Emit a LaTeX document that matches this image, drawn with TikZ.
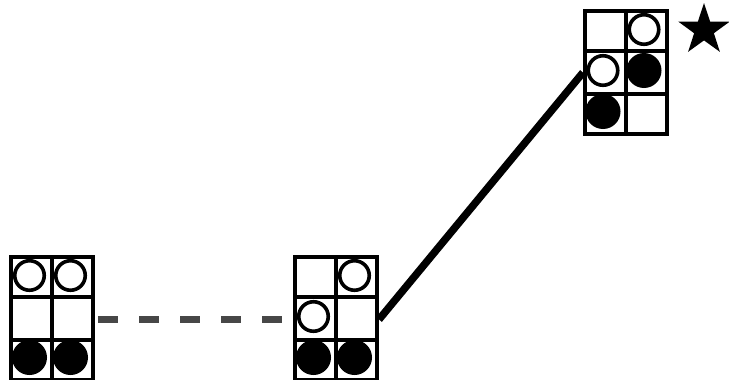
\documentclass[tikz,border=0pt]{standalone}
\usetikzlibrary{shapes.geometric,calc}
\begin{document}
\begin{tikzpicture}[x=1pt,y=-1pt,
  gridbox/.style={draw, line width=4pt, minimum width=82pt, minimum height=123pt, inner sep=0pt, anchor=north west},
  gridline/.style={line width=4pt},
  opencirc/.style={circle, draw, line width=3.6pt, minimum size=29.5pt, inner sep=0pt},
  fullcirc/.style={circle, fill=black, minimum size=35pt, inner sep=0pt},
  dashlink/.style={line width=7.5pt, draw=black!72, dash pattern=on 20pt off 21pt},
  solidlink/.style={line width=7.5pt, draw=black},
  starmark/.style={star, star points=5, star point ratio=2.6, fill=black, minimum size=54pt, inner sep=0pt}]
\useasboundingbox (0,0) rectangle (729,380);
% grids
\node[gridbox] (g1) at (9,255) {};
\node[gridbox] (g2) at (293,255) {};
\node[gridbox] (g3) at (583,9) {};
\foreach \g in {g1,g2,g3}{
  \draw[gridline] (\g.north) -- (\g.south);
  \draw[gridline] ($(\g.north west)!1/3!(\g.south west)$) -- ($(\g.north east)!1/3!(\g.south east)$);
  \draw[gridline] ($(\g.north west)!2/3!(\g.south west)$) -- ($(\g.north east)!2/3!(\g.south east)$);
}
% grid 1 pieces
\node[opencirc] (a11) at (29.5,275.5) {};
\node[opencirc] (a12) at (70.5,275.5) {};
\node[fullcirc] (a31) at (29.5,357.5) {};
\node[fullcirc] (a32) at (70.5,357.5) {};
% grid 2 pieces
\node[opencirc] (b12) at (354.5,275.5) {};
\node[opencirc] (b21) at (313.5,316.5) {};
\node[fullcirc] (b31) at (313.5,357.5) {};
\node[fullcirc] (b32) at (354.5,357.5) {};
% grid 3 pieces
\node[opencirc] (c12) at (644,29.5) {};
\node[opencirc] (c21) at (603,70.5) {};
\node[fullcirc] (c22) at (644,70.5) {};
\node[fullcirc] (c31) at (603,111.5) {};
% star
\node[starmark] (st) at (704,30) {};
% links
\coordinate (d1) at ($(g1.east)+(3,1)$);
\coordinate (d2) at ($(g2.west)+(-3,1)$);
\draw[dashlink] (d1) -- (d2);
\draw[solidlink] ($(g2.east)+(0,1)$) -- (g3.west);
\end{tikzpicture}
\end{document}
